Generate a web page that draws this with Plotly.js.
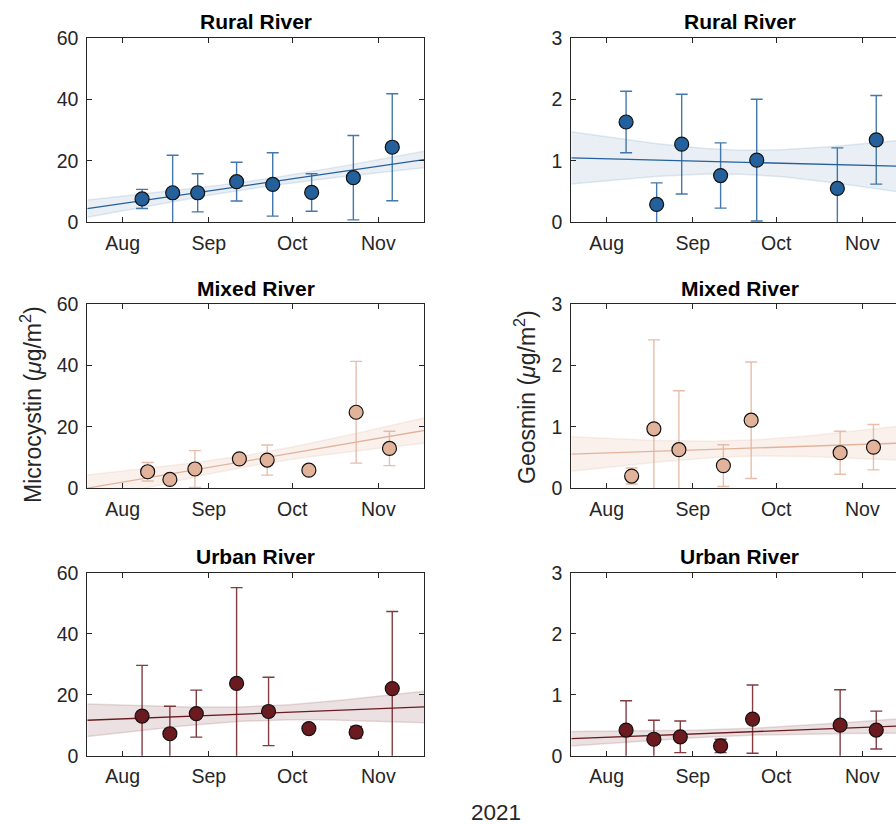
<!DOCTYPE html>
<html>
<head>
<meta charset="utf-8">
<script src="https://cdn.plot.ly/plotly-3.0.1.min.js"></script>
<style>
html,body{margin:0;padding:0;overflow:hidden;background:#fff;}
#chart{width:920px;height:824px;}
</style>
</head>
<body>
<div id="chart"></div>
<script>
// ---- data ----
const sites = ['Rural River', 'Mixed River', 'Urban River'];
const ruralDates = ['2021-08-08','2021-08-19','2021-08-28','2021-09-11','2021-09-24','2021-10-08','2021-10-23','2021-11-06'];
const mixedDates = ['2021-08-10','2021-08-18','2021-08-27','2021-09-12','2021-09-22','2021-10-07','2021-10-24','2021-11-05'];
const urbanDates = ['2021-08-08','2021-08-18','2021-08-27 12:00','2021-09-11','2021-09-22 12:00','2021-10-07','2021-10-24','2021-11-06'];

const ruralMC    = [7.6, 9.6, 9.6, 13.2, 12.3, 9.7, 14.5, 24.4];
const ruralMCErr = [3.1, 12.2, 6.2, 6.3, 10.3, 6.1, 13.7, 17.4];
const ruralGS    = [1.63, 0.29, 1.27, 0.76, 1.01, null, 0.55, 1.34];
const ruralGSErr = [0.50, 0.35, 0.81, 0.53, 0.99, null, 0.66, 0.72];

const mixedMC    = [5.4, 2.9, 6.3, 9.6, 9.2, 5.9, 24.8, 13.0];
const mixedMCErr = [3.0, 1.0, 6.0, 1.0, 4.9, 1.0, 16.6, 5.6];
const mixedGS    = [0.20, 0.97, 0.63, 0.37, 1.11, null, 0.58, 0.67];
const mixedGSErr = [0.13, 1.45, 0.96, 0.34, 0.95, null, 0.35, 0.37];

const urbanMC    = [13.0, 7.2, 13.8, 23.7, 14.5, 8.9, 7.7, 22.0];
const urbanMCErr = [16.6, 9.0, 7.7, 31.4, 11.2, 1.0, 1.9, 25.3];
const urbanGS    = [0.42, 0.27, 0.31, 0.16, 0.60, null, 0.50, 0.42];
const urbanGSErr = [0.48, 0.31, 0.26, 0.11, 0.56, null, 0.58, 0.31];

const colors = ['#24609b', '#e2b39b', '#6b1a1f'];
const fitFill = ['rgba(36,96,155,0.10)', 'rgba(226,179,155,0.18)', 'rgba(107,26,31,0.13)'];
const fitEdge = ['rgba(36,96,155,0.12)', 'rgba(226,179,155,0.2)', 'rgba(107,26,31,0.14)'];
const errColors = ['rgba(36,96,155,0.85)', 'rgba(226,179,155,0.85)', 'rgba(107,26,31,0.85)'];

const xRange = ['2021-07-19 07:00', '2021-11-17 10:00'];
const yRanges = [[0, 60], [0, 3]];
const yTicks = [[0, 20, 40, 60], [0, 1, 2, 3]];
const xTickVals = ['2021-08-01', '2021-09-01', '2021-10-01', '2021-11-01'];
const xTickText = ['Aug', 'Sep', 'Oct', 'Nov'];

const panels = [
  {dates: ruralDates, y: ruralMC, e: ruralMCErr, site: 0, col: 0},
  {dates: ruralDates, y: ruralGS, e: ruralGSErr, site: 0, col: 1},
  {dates: mixedDates, y: mixedMC, e: mixedMCErr, site: 1, col: 0},
  {dates: mixedDates, y: mixedGS, e: mixedGSErr, site: 1, col: 1},
  {dates: urbanDates, y: urbanMC, e: urbanMCErr, site: 2, col: 0},
  {dates: urbanDates, y: urbanGS, e: urbanGSErr, site: 2, col: 1},
];

// ---- geometry (pixels) ----
const W = 920, H = 824;
const colX = [[87.3, 424], [571.3, 908]];
const rowY = [[37.7, 222.3], [304.3, 488.3], [572.7, 755.7]];
const fx = v => v / W;
const fy = v => 1 - v / H;

const DAY = 86400000;
const toMs = s => new Date(s.replace(' ', 'T') + (s.length > 10 ? ':00Z' : 'T00:00:00Z')).getTime();
const msToStr = ms => new Date(ms).toISOString().slice(0, 19).replace('T', ' ');

function linfit(xs, ys) {
  const pts = xs.map((x, i) => [x, ys[i]]).filter(p => p[1] !== null);
  const n = pts.length;
  const mx = pts.reduce((a, p) => a + p[0], 0) / n;
  const my = pts.reduce((a, p) => a + p[1], 0) / n;
  let sxx = 0, sxy = 0;
  pts.forEach(p => { sxx += (p[0] - mx) ** 2; sxy += (p[0] - mx) * (p[1] - my); });
  const b = sxy / sxx, a = my - b * mx;
  let sse = 0;
  pts.forEach(p => { sse += (p[1] - (a + b * p[0])) ** 2; });
  const s = Math.sqrt(sse / (n - 2));
  return {a, b, s, n, mx, sxx};
}

const traces = [];
const layout = {
  width: W, height: H,
  margin: {l: 0, r: 0, t: 0, b: 0},
  paper_bgcolor: '#fff', plot_bgcolor: '#fff',
  showlegend: false,
  font: {family: 'Liberation Sans, Arial, sans-serif', size: 19, color: '#262626'},
  annotations: []
};

panels.forEach((p, i) => {
  const k = i + 1;
  const row = Math.floor(i / 2);
  const xa = 'x' + (k === 1 ? '' : k), ya = 'y' + (k === 1 ? '' : k);
  const c = colors[p.site];
  // regression (x in days)
  const xd = p.dates.map(d => toMs(d) / DAY);
  const f = linfit(xd, p.y);
  const x0 = toMs(xRange[0]) / DAY, x1 = toMs(xRange[1]) / DAY;
  const nn = 60;
  const gx = [], gy = [], up = [], lo = [];
  for (let j = 0; j <= nn; j++) {
    const xv = x0 + (x1 - x0) * j / nn;
    const yv = f.a + f.b * xv;
    const se = f.s * Math.sqrt(1 / f.n + (xv - f.mx) ** 2 / f.sxx);
    gx.push(msToStr(xv * DAY)); gy.push(yv); up.push(yv + se); lo.push(yv - se);
  }
  traces.push({x: gx, y: lo, xaxis: xa, yaxis: ya, mode: 'lines', line: {color: fitEdge[p.site], width: 1.5}, hoverinfo: 'skip'});
  traces.push({x: gx, y: up, xaxis: xa, yaxis: ya, mode: 'lines', fill: 'tonexty', fillcolor: fitFill[p.site], line: {color: fitEdge[p.site], width: 1.5}, hoverinfo: 'skip'});
  traces.push({x: gx, y: gy, xaxis: xa, yaxis: ya, mode: 'lines', line: {color: c, width: 1.3}, hoverinfo: 'skip'});
  traces.push({
    x: p.dates, y: p.y, xaxis: xa, yaxis: ya, mode: 'markers',
    marker: {size: 14, color: c, line: {color: '#111', width: 1.2}},
    error_y: {type: 'data', array: p.e, symmetric: true, color: errColors[p.site], thickness: 1.4, width: 6}
  });

  const axX = {
    domain: [fx(colX[p.col][0]), fx(colX[p.col][1])], anchor: ya,
    type: 'date', range: xRange,
    tickmode: 'array', tickvals: xTickVals, ticktext: xTickText,
    ticks: 'inside', ticklen: 5, tickcolor: '#262626', tickwidth: 1,
    showline: true, linecolor: '#262626', linewidth: 1, mirror: 'ticks',
    showgrid: false, zeroline: false, ticklabelstandoff: 3,
    tickfont: {size: 19.5, color: '#262626'}
  };
  const axY = {
    domain: [fy(rowY[row][1]), fy(rowY[row][0])], anchor: xa,
    range: yRanges[p.col], tickmode: 'array', tickvals: yTicks[p.col],
    ticks: 'inside', ticklen: 5, tickcolor: '#262626', tickwidth: 1,
    showline: true, linecolor: '#262626', linewidth: 1, mirror: 'ticks',
    showgrid: false, zeroline: false, ticklabelstandoff: 4,
    tickfont: {size: 19.5, color: '#262626'}
  };
  layout['xaxis' + (k === 1 ? '' : k)] = axX;
  layout['yaxis' + (k === 1 ? '' : k)] = axY;

  layout.annotations.push({
    text: '<b>' + sites[p.site] + '</b>', xref: 'paper', yref: 'paper',
    x: fx((colX[p.col][0] + colX[p.col][1]) / 2), y: fy(rowY[row][0] - 16),
    xanchor: 'center', yanchor: 'middle', showarrow: false,
    font: {size: 21, color: '#000'}
  });
});

layout.annotations.push({
  text: 'Microcystin (<i>μ</i>g/m<sup>2</sup>)', xref: 'paper', yref: 'paper',
  x: fx(31), y: fy(405), xanchor: 'center', yanchor: 'middle', textangle: -90,
  showarrow: false, font: {size: 23, color: '#262626'}
});
layout.annotations.push({
  text: 'Geosmin (<i>μ</i>g/m<sup>2</sup>)', xref: 'paper', yref: 'paper',
  x: fx(525), y: fy(397), xanchor: 'center', yanchor: 'middle', textangle: -90,
  showarrow: false, font: {size: 23, color: '#262626'}
});
layout.annotations.push({
  text: '2021', xref: 'paper', yref: 'paper',
  x: fx(496), y: fy(812), xanchor: 'center', yanchor: 'middle',
  showarrow: false, font: {size: 22.5, color: '#262626'}
});

Plotly.newPlot('chart', traces, layout, {staticPlot: true, responsive: false});
</script>
</body>
</html>
